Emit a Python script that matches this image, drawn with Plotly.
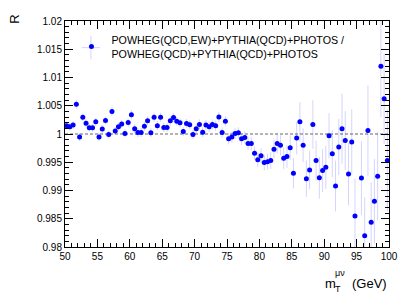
import plotly.graph_objects as go

# bin centres (GeV)
mt_bins = [50.25 + 0.5 * i for i in range(100)]

# deviation of R from 1, in units of 1e-3
dev_e3 = [
    1.47, 1.29, 1.58, 5.26, -0.55, 2.96, 1.92, 1.12, 1.12, 2.16,
    -0.55, 0.88, 2.38, -0.09, 3.99, 0.54, 1.29, 1.75, 0.09, 2.04,
    3.42, 0.95, 0.26, 0.26, 1.35, 2.33, 0.20, 2.96, 1.47, 2.96,
    1.17, 1.17, 2.33, 2.90, 2.27, 1.98, 0.43, 1.86, 1.64, -0.09,
    0.95, 1.69, 0.31, 1.58, 1.29, 1.69, 1.47, 3.02, 0.26, 2.27,
    -0.85, -0.55, 0.08, 0.20, -0.85, -0.60, -1.70, -1.70, -3.40, -4.55,
    -3.85, -5.05, -4.90, -4.70, -2.70, -1.70, -2.00, -4.30, -4.00, -2.45,
    -6.94, -0.73, 2.16, -2.00, -7.90, -6.37, 1.69, -4.70, -7.75, -6.48,
    -5.90, -0.30, -3.49, -9.20, -2.28, 0.95, -1.15, -7.10, -1.42, -14.5,
    None, -7.80, -18.0, 0.60, -15.6, -11.9, -7.46, 12.0, 6.24, -4.70,
]

# statistical uncertainty, in units of 1e-3
err_e3 = [
    0.7, 0.7, 0.7, 0.8, 0.7, 0.7, 0.7, 0.7, 0.7, 0.7,
    0.7, 0.7, 0.7, 0.7, 0.8, 0.7, 0.7, 0.7, 0.7, 0.7,
    0.8, 0.8, 0.8, 0.8, 0.8, 0.8, 0.8, 0.8, 0.8, 0.8,
    0.8, 0.8, 0.8, 0.8, 0.8, 0.8, 0.8, 0.8, 0.8, 0.8,
    0.9, 0.9, 0.9, 0.9, 0.9, 0.9, 0.9, 0.9, 0.9, 0.9,
    1.0, 1.0, 1.0, 1.0, 1.1, 1.1, 1.1, 1.2, 1.2, 1.3,
    1.3, 1.4, 1.4, 1.5, 1.6, 1.7, 1.8, 1.9, 2.0, 2.2,
    2.7, 2.9, 3.5, 3.0, 3.2, 3.4, 4.3, 3.5, 3.7, 3.8,
    3.8, 4.0, 4.2, 4.5, 5.0, 6.2, 5.2, 5.5, 5.8, 6.6,
    0.0, 6.5, 6.8, 8.0, 7.0, 7.5, 7.8, 9.0, 8.0, 9.0,
]

ratio = [None if d is None else 1 + d / 1000 for d in dev_e3]
ratio_err = [e / 1000 for e in err_e3]

y_ticks = [0.98, 0.985, 0.99, 0.995, 1.0, 1.005, 1.01, 1.015, 1.02]
y_tick_text = ["0.98", "0.985", "0.99", "0.995", "1", "1.005", "1.01", "1.015", "1.02"]
x_ticks = [50, 55, 60, 65, 70, 75, 80, 85, 90, 95, 100]

legend_name = "POWHEG(QCD,EW)+PYTHIA(QCD)+PHOTOS /<br>POWHEG(QCD)+PYTHIA(QCD)+PHOTOS"

FONT = "Liberation Sans, Arial, Helvetica, sans-serif"
ERR_COLOR = "rgba(60,60,255,0.22)"

fig = go.Figure()
fig.add_trace(go.Scatter(
    x=mt_bins, y=ratio, mode="markers", name=legend_name,
    marker=dict(color="#0000ff", size=5),
    error_y=dict(type="data", array=ratio_err, visible=True,
                 color=ERR_COLOR, thickness=1, width=0),
))

fig.add_shape(type="line", x0=50, x1=100, y0=1, y1=1, xref="x", yref="y",
              line=dict(color="#666666", width=1, dash="3px,2px"), layer="below")

# ROOT-style error cross behind the legend marker
fig.add_shape(type="line", xref="paper", yref="paper", x0=0.080, x1=0.080, y0=0.83, y1=0.935,
              line=dict(color=ERR_COLOR, width=1), layer="below")
fig.add_shape(type="line", xref="paper", yref="paper", x0=0.052, x1=0.108, y0=0.882, y1=0.882,
              line=dict(color=ERR_COLOR, width=1), layer="below")

# the page body adds an 8px offset; size the figure so the plot frame lands
# at x 65..389, y 15..247 in the 409x294 window
fig.update_layout(
    width=401, height=286,
    margin=dict(l=57, r=20, t=7, b=47),
    plot_bgcolor="white", paper_bgcolor="white",
    font=dict(family=FONT, size=10, color="black"),
    showlegend=True,
    legend=dict(x=0.02, y=0.978, xanchor="left", yanchor="top",
                bgcolor="rgba(0,0,0,0)", font=dict(size=10.7),
                itemwidth=30, tracegroupgap=0),
)
fig.update_xaxes(
    range=[50, 100], tickvals=x_ticks, ticks="inside", ticklen=8,
    tickcolor="black", showline=True, linecolor="black", linewidth=1,
    mirror="allticks", showgrid=False, zeroline=False,
    tickfont=dict(size=10),
    minor=dict(dtick=1, tick0=50, ticks="inside", ticklen=4, tickcolor="black", showgrid=False),
)
fig.update_yaxes(
    range=[0.98, 1.02], tickvals=y_ticks, ticktext=y_tick_text, ticks="inside", ticklen=8,
    tickcolor="black", showline=True, linecolor="black", linewidth=1,
    mirror="allticks", showgrid=False, zeroline=False,
    tickfont=dict(size=10),
    minor=dict(dtick=0.001, tick0=0.98, ticks="inside", ticklen=4, tickcolor="black", showgrid=False),
)

# axis titles
fig.add_annotation(text="R", xref="paper", yref="paper", x=-0.157, y=1.035,
                   xanchor="center", yanchor="top", textangle=-90, showarrow=False,
                   font=dict(size=13))
fig.add_annotation(text="m", xref="paper", yref="paper", x=0.795, y=-0.16,
                   xanchor="left", yanchor="middle", showarrow=False, font=dict(size=13))
fig.add_annotation(text="μν", xref="paper", yref="paper", x=0.826, y=-0.115,
                   xanchor="left", yanchor="middle", showarrow=False, font=dict(size=9))
fig.add_annotation(text="T", xref="paper", yref="paper", x=0.826, y=-0.185,
                   xanchor="left", yanchor="middle", showarrow=False, font=dict(size=9))
fig.add_annotation(text="(GeV)", xref="paper", yref="paper", x=1.0, y=-0.16,
                   xanchor="right", yanchor="middle", showarrow=False, font=dict(size=13))

fig.write_html("out.html")
